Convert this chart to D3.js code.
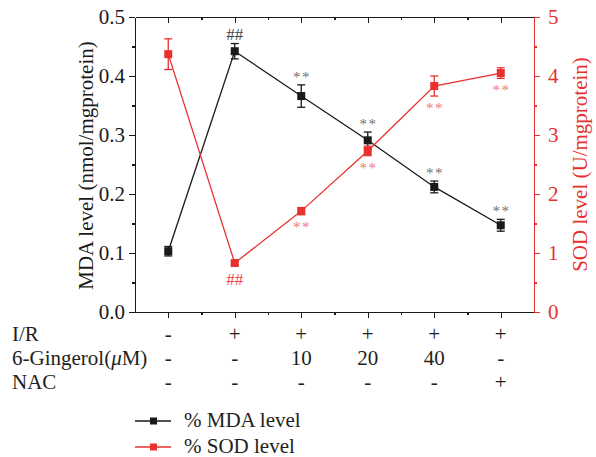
<!DOCTYPE html>
<html>
<head>
<meta charset="utf-8">
<script src="https://cdn.jsdelivr.net/npm/d3@7"></script>
<style>
  body { margin: 0; background: #fff; }
  .axis path, .axis line { shape-rendering: crispEdges; }
</style>
</head>
<body>
<div id="chart"></div>
<script>
// groups along the x axis
var groups = [1, 2, 3, 4, 5, 6];
var irRow = ["-", "+", "+", "+", "+", "+"];
var gingerolRow = ["-", "-", "10", "20", "40", "-"];
var nacRow = ["-", "-", "-", "-", "-", "+"];

// MDA (left axis) and SOD (right axis)
var mda = [0.103, 0.442, 0.366, 0.291, 0.212, 0.147];
var mdaErr = [0.008, 0.013, 0.019, 0.014, 0.010, 0.010];
var sod = [4.37, 0.83, 1.71, 2.73, 3.83, 4.05];
var sodErr = [0.26, 0.03, 0.06, 0.08, 0.17, 0.09];
var mdaMarks = ["", "##", "**", "**", "**", "**"];
var sodMarks = ["", "##", "**", "**", "**", "**"];

var leftTicks = [0, 0.1, 0.2, 0.3, 0.4, 0.5];
var rightTicks = [0, 1, 2, 3, 4, 5];

var svgWidth = 596;
var svgHeight = 457;
var margin = { top: 17, right: 62, bottom: 145, left: 135 };
var width = svgWidth - margin.left - margin.right;
var height = svgHeight - margin.top - margin.bottom;

var black = "#1a1a1a";
var red = "#e8302e";
var serif = "'Liberation Serif', 'DejaVu Serif', serif";

var svg = d3.select("#chart")
  .append("svg")
  .attr("width", svgWidth)
  .attr("height", svgHeight)
  .attr("font-family", serif);

var chartGroup = svg.append("g")
  .attr("transform", `translate(${margin.left}, ${margin.top})`);

var xScale = d3.scaleLinear().domain([0.5, 6.5]).range([0, width]);
var yLeft = d3.scaleLinear().domain([0, 0.5]).range([height, 0]);
var yRight = d3.scaleLinear().domain([0, 5]).range([height, 0]);

var halfSteps = groups.slice(0, 5).map(d => d + 0.5);

// axes, major + minor ticks
function styleAxis(g, color, size) {
  g.attr("class", "axis").attr("font-family", serif);
  g.selectAll("path, line").attr("stroke", color).attr("stroke-width", 1.3);
  g.selectAll("text").attr("fill", color).style("font-size", size + "px");
}

chartGroup.append("g")
  .attr("transform", `translate(0, ${height})`)
  .call(d3.axisBottom(xScale).tickValues(groups).tickSize(6).tickSizeOuter(0).tickFormat(""))
  .call(g => styleAxis(g, black, 20));
chartGroup.append("g")
  .attr("transform", `translate(0, ${height})`)
  .call(d3.axisBottom(xScale).tickValues(halfSteps).tickSize(3).tickSizeOuter(0).tickFormat(""))
  .call(g => styleAxis(g, black, 20));

chartGroup.append("g")
  .call(d3.axisTop(xScale).tickValues(groups).tickSize(-6).tickSizeOuter(0).tickFormat(""))
  .call(g => styleAxis(g, black, 20));
chartGroup.append("g")
  .call(d3.axisTop(xScale).tickValues(halfSteps).tickSize(-3).tickSizeOuter(0).tickFormat(""))
  .call(g => styleAxis(g, black, 20));

chartGroup.append("g")
  .call(d3.axisLeft(yLeft).tickValues(leftTicks).tickSize(6).tickPadding(4).tickSizeOuter(0).tickFormat(d3.format(".1f")))
  .call(g => styleAxis(g, black, 21));
chartGroup.append("g")
  .call(d3.axisLeft(yLeft).tickValues(leftTicks.slice(0, 5).map(d => d + 0.05)).tickSize(3).tickSizeOuter(0).tickFormat(""))
  .call(g => styleAxis(g, black, 21));

chartGroup.append("g")
  .attr("transform", `translate(${width}, 0)`)
  .call(d3.axisRight(yRight).tickValues(rightTicks).tickSize(6).tickPadding(8).tickSizeOuter(0).tickFormat(d3.format("d")))
  .call(g => styleAxis(g, red, 21));
chartGroup.append("g")
  .attr("transform", `translate(${width}, 0)`)
  .call(d3.axisRight(yRight).tickValues(rightTicks.slice(0, 5).map(d => d + 0.5)).tickSize(3).tickSizeOuter(0).tickFormat(""))
  .call(g => styleAxis(g, red, 21));

// axis titles
chartGroup.append("text")
  .attr("transform", `translate(${93 - margin.left}, ${height / 2 + 1}) rotate(-90)`)
  .attr("text-anchor", "middle")
  .attr("fill", black)
  .style("font-size", "21px")
  .text("MDA level (nmol/mgprotein)");

chartGroup.append("text")
  .attr("transform", `translate(${587 - margin.left}, ${height / 2}) rotate(-90)`)
  .attr("text-anchor", "middle")
  .attr("fill", red)
  .style("font-size", "21px")
  .text("SOD level (U/mgprotein)");

// series
function drawSeries(values, errs, y, color) {
  var pts = groups.map((g, i) => ({ x: g, v: values[i], e: errs[i] }));
  chartGroup.append("path")
    .datum(pts)
    .attr("fill", "none")
    .attr("stroke", color)
    .attr("stroke-width", 1.3)
    .attr("d", d3.line().x(d => xScale(d.x)).y(d => y(d.v)));

  var eb = chartGroup.append("g").attr("stroke", color).attr("stroke-width", 1.3);
  pts.forEach(function(d) {
    var cx = xScale(d.x);
    eb.append("line").attr("x1", cx).attr("x2", cx).attr("y1", y(d.v - d.e)).attr("y2", y(d.v + d.e));
    eb.append("line").attr("x1", cx - 4).attr("x2", cx + 4).attr("y1", y(d.v - d.e)).attr("y2", y(d.v - d.e));
    eb.append("line").attr("x1", cx - 4).attr("x2", cx + 4).attr("y1", y(d.v + d.e)).attr("y2", y(d.v + d.e));
  });

  chartGroup.selectAll(null)
    .data(pts)
    .enter()
    .append("rect")
    .attr("x", d => xScale(d.x) - 4)
    .attr("y", d => y(d.v) - 4)
    .attr("width", 8)
    .attr("height", 8)
    .attr("fill", color);
}

drawSeries(mda, mdaErr, yLeft, black);
drawSeries(sod, sodErr, yRight, red);

// significance marks: MDA above, SOD below
function isHash(m) { return m == "##"; }

chartGroup.selectAll(null)
  .data(groups)
  .enter()
  .append("text")
  .attr("x", (d, i) => xScale(d) + (isHash(mdaMarks[i]) ? 0 : 0.75))
  .attr("y", (d, i) => yLeft(mda[i] + mdaErr[i]) + (isHash(mdaMarks[i]) ? -3.5 : -3))
  .attr("text-anchor", "middle")
  .attr("fill", (d, i) => isHash(mdaMarks[i]) ? "#444" : "#707070")
  .style("font-size", (d, i) => isHash(mdaMarks[i]) ? "17px" : "15px")
  .style("letter-spacing", (d, i) => isHash(mdaMarks[i]) ? "0px" : "1.5px")
  .text((d, i) => mdaMarks[i]);

chartGroup.selectAll(null)
  .data(groups)
  .enter()
  .append("text")
  .attr("x", (d, i) => xScale(d) + (isHash(sodMarks[i]) ? 0 : 0.75))
  .attr("y", (d, i) => yRight(sod[i] - sodErr[i]) + (isHash(sodMarks[i]) ? 20 : 17))
  .attr("text-anchor", "middle")
  .attr("fill", (d, i) => isHash(sodMarks[i]) ? "#e84545" : "#f07878")
  .style("font-size", (d, i) => isHash(sodMarks[i]) ? "17px" : "15px")
  .style("letter-spacing", (d, i) => isHash(sodMarks[i]) ? "0px" : "1.5px")
  .text((d, i) => sodMarks[i]);

// treatment table under the axis
var rows = [
  { label: "I/R", cells: irRow },
  { label: "6-Gingerol(", cells: gingerolRow },
  { label: "NAC", cells: nacRow }
];
rows.forEach(function(row, r) {
  var yb = 341 + r * 24;
  var t = svg.append("text")
    .attr("x", 12)
    .attr("y", yb)
    .attr("fill", "#231f20")
    .style("font-size", "21px")
    .text(row.label);
  if (r == 1) {
    t.append("tspan").style("font-style", "italic").text("\u03bc");
    t.append("tspan").text("M)");
  }
  svg.selectAll(null)
    .data(row.cells)
    .enter()
    .append("text")
    .attr("x", (d, i) => margin.left + xScale(groups[i]))
    .attr("y", yb)
    .attr("text-anchor", "middle")
    .attr("fill", "#231f20")
    .style("font-size", "21px")
    .text(d => d);
});

// legend
var legendItems = [
  { name: "% MDA level", color: black, y: 421 },
  { name: "% SOD level", color: red, y: 447 }
];
legendItems.forEach(function(item) {
  svg.append("line")
    .attr("x1", 135).attr("x2", 171)
    .attr("y1", item.y).attr("y2", item.y)
    .attr("stroke", item.color).attr("stroke-width", 1.3);
  svg.append("rect")
    .attr("x", 150).attr("y", item.y - 3.5)
    .attr("width", 7).attr("height", 7)
    .attr("fill", item.color);
  svg.append("text")
    .attr("x", 184).attr("y", item.y + 6)
    .attr("fill", "#231f20")
    .style("font-size", "21px")
    .text(item.name);
});

svg.selectAll("text").style("font-family", serif);
</script>
</body>
</html>
